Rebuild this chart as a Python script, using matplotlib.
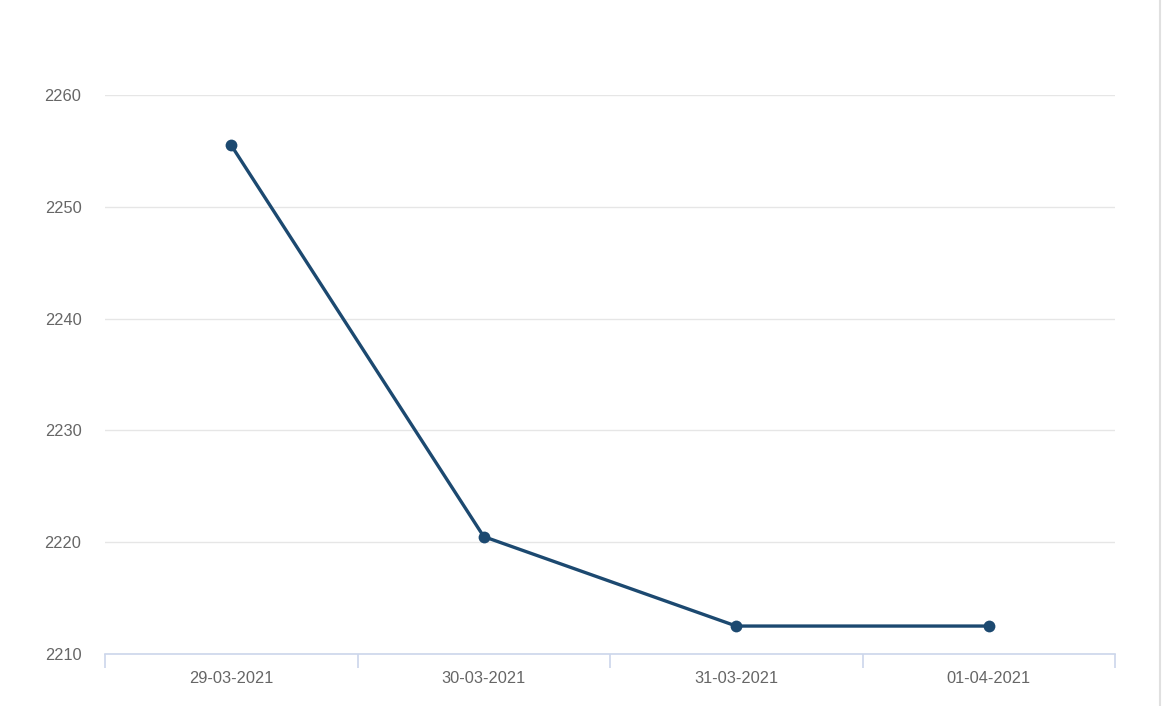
import matplotlib.pyplot as plt
from matplotlib.lines import Line2D

dates = ["29-03-2021", "30-03-2021", "31-03-2021", "01-04-2021"]
prices = [2255.5, 2220.5, 2212.5, 2212.5]
y_ticks = [2210, 2220, 2230, 2240, 2250, 2260]

plt.rcParams["font.family"] = ["Liberation Sans", "DejaVu Sans"]

fig = plt.figure(figsize=(11.64, 7.06), dpi=100)
ax = fig.add_axes([105 / 1164, 52 / 706, 1010 / 1164, 559 / 706])

x = list(range(len(dates)))
ax.plot(x, prices, color="#1c4970", linewidth=2.4, marker="o", markersize=8.5,
        markeredgewidth=0, zorder=3)

ax.set_xlim(-0.5, len(dates) - 0.5)
ax.set_ylim(2210, 2260)
ax.set_yticks(y_ticks)
ax.grid(axis="y", color="#e6e6e6", linewidth=1)
ax.set_axisbelow(True)

for s in ["top", "right", "left"]:
    ax.spines[s].set_visible(False)
ax.spines["bottom"].set_color("#ccd6eb")
ax.spines["bottom"].set_linewidth(1.2)

ax.set_xticks(x)
ax.set_xticklabels(dates)
ax.set_xticks([i - 0.5 for i in range(len(dates) + 1)], minor=True)
ax.tick_params(axis="x", which="major", length=0, pad=12, labelsize=11.8, labelcolor="#666666")
ax.tick_params(axis="x", which="minor", length=10, color="#ccd6eb", width=1.2)
ax.tick_params(axis="y", length=0, pad=17, labelsize=11.8, labelcolor="#666666")
for lbl in ax.get_yticklabels():
    lbl.set_y(lbl.get_position()[1])
    lbl.set_va("center_baseline")

# right border of the panel
fig.add_artist(Line2D([1160 / 1164, 1160 / 1164], [0, 1], color="#e0e0e0", linewidth=1.5,
                      transform=fig.transFigure))

fig.savefig("out.png", dpi=100)
